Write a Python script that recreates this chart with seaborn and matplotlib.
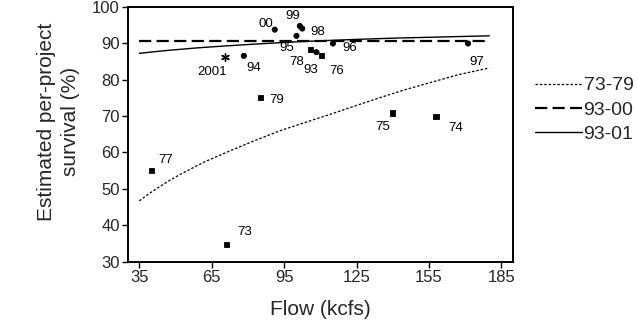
import matplotlib
matplotlib.use("Agg")
import matplotlib.pyplot as plt
import seaborn as sns
import pandas as pd

# ---- data ----
labels = ["73", "74", "75", "76", "77", "78", "79",
          "93", "94", "95", "96", "97", "98", "99", "00", "2001"]
flow = [71.0, 157.9, 140.0, 110.5, 40.1, 106.0, 85.2,
        108.4, 78.3, 100.1, 115.2, 171.2, 102.5, 101.5, 91.1, 70.3]
survival = [34.8, 69.8, 70.8, 86.5, 55.0, 88.2, 75.1,
            87.5, 86.5, 92.0, 89.9, 89.9, 94.0, 94.7, 93.7, 86.3]
period = ["1973-79"] * 7 + ["1993-2000"] * 8 + ["2001"]

# fitted curves
fit_73_79_x = [35, 38, 42, 47, 52, 62, 72.8, 83, 93.5, 104, 114.3, 125, 135, 145, 155.7, 167, 180]
fit_73_79_y = [46.7, 48.2, 50.0, 52.1, 54.0, 57.4, 60.5, 63.3, 66.0, 68.3, 70.5, 72.9, 75.1, 77.2, 79.2, 81.3, 83.2]
fit_93_00_x = [35, 180]
fit_93_00_y = [90.7, 90.7]
fit_93_01_x = [35, 45, 59, 70, 82, 98, 112, 128, 142, 155, 167, 180]
fit_93_01_y = [87.2, 87.9, 88.7, 89.2, 89.7, 90.3, 90.7, 91.1, 91.4, 91.6, 91.8, 92.0]

xticks = [35, 65, 95, 125, 155, 185]
yticks = [30, 40, 50, 60, 70, 80, 90, 100]

# label offsets in pixels (annotation layout)
label_offsets = {
    "73": (18, 12), "74": (20, -11), "75": (-10, -14), "76": (15, -15),
    "77": (14, 11), "78": (-14, -12), "79": (16, -3),
    "93": (-6, -18), "94": (10, -12), "95": (-10, -12), "96": (17, -5),
    "97": (9, -19), "98": (16, -3), "99": (-7, 10), "00": (-9, 6),
    "2001": (-12, -15),
}

sns.set_theme(style="ticks")
plt.rcParams["font.family"] = ["Liberation Sans", "DejaVu Sans"]

fig = plt.figure(figsize=(6.38, 3.26), dpi=100)
ax = fig.add_axes([128 / 638, 1 - 261.7 / 326, (512.7 - 128) / 638, (261.7 - 6.7) / 326])

pts = pd.DataFrame({"flow": flow, "survival": survival, "period": period, "label": labels})
filled = pts[pts["period"] != "2001"]
star = pts[pts["period"] == "2001"]

sns.scatterplot(data=filled, x="flow", y="survival", style="period",
                markers={"1973-79": "s", "1993-2000": "o"},
                s=14, color="black", edgecolor="black", linewidth=0.6,
                legend=False, ax=ax, zorder=3)
sns.scatterplot(data=star, x="flow", y="survival", marker=(6, 2, 0),
                s=30, color="black", linewidth=1.0, legend=False, ax=ax, zorder=3)

sns.lineplot(x=fit_73_79_x, y=fit_73_79_y, ax=ax, color="black", lw=0.9,
             linestyle=(0, (2.0, 1.5)), label="73-79")
sns.lineplot(x=fit_93_00_x, y=fit_93_00_y, ax=ax, color="black", lw=1.6,
             linestyle=(0, (5.5, 2.4)), label="93-00")
sns.lineplot(x=fit_93_01_x, y=fit_93_01_y, ax=ax, color="black", lw=1.0,
             linestyle="-", label="93-01")

for lab, fx, sy in zip(labels, flow, survival):
    dx, dy = label_offsets[lab]
    ax.annotate(lab, (fx, sy), xytext=(dx, dy), textcoords="offset pixels",
                ha="center", va="center", fontsize=9.5, color="black")

ax.set_xlim(30.3, 189.7)
ax.set_ylim(30, 100)
ax.set_xticks(xticks)
ax.set_yticks(yticks)
ax.tick_params(axis="both", labelsize=12, length=4, width=1, color="black",
               direction="out", pad=2)
for sp in ax.spines.values():
    sp.set_linewidth(1.4)
    sp.set_color("black")

ax.set_xlabel("Flow (kcfs)", fontsize=15, labelpad=11)
ax.set_ylabel("Estimated per-project\nsurvival (%)", fontsize=15,
              linespacing=1.3)
ax.yaxis.set_label_coords(-0.125, 0.55)

leg = ax.legend(loc="center left", bbox_to_anchor=(535 / 638, 1 - 110 / 326),
                bbox_transform=fig.transFigure, frameon=False, fontsize=14,
                handlelength=2.4, handletextpad=0.1, labelspacing=0.35,
                borderaxespad=0, borderpad=0)

fig.savefig("out.png", dpi=100)
